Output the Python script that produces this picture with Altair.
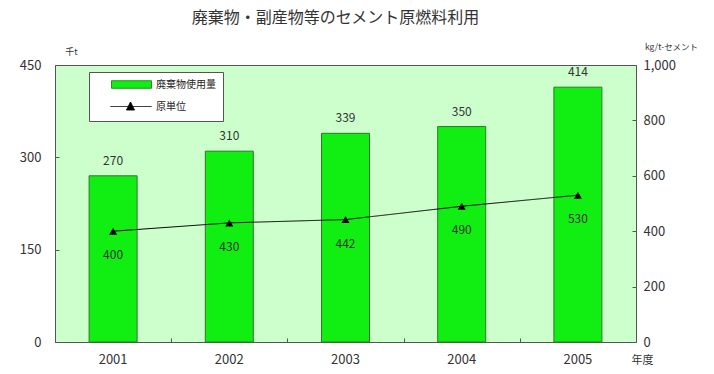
import altair as alt
import pandas as pd

years = ["2001", "2002", "2003", "2004", "2005"]
waste = [270, 310, 339, 350, 414]          # 千t
unit = [400, 430, 442, 490, 530]           # kg/t-セメント
series_names = ["廃棄物使用量", "原単位"]
left_ticks = [0, 150, 300, 450]
right_ticks = [0, 200, 400, 600, 800, 1000]

FONT = "Noto Sans CJK JP"
GREEN = "#11ee11"
TXT = "#333333"
AX = "#555555"

df = pd.DataFrame({"year": years, "waste": waste, "unit": unit})
df["s_bar"] = series_names[0]
df["s_line"] = series_names[1]

x_scale = alt.Scale(paddingInner=0, paddingOuter=0)
x_main = alt.X(
    "year:N", scale=x_scale,
    axis=alt.Axis(
        orient="bottom",
        title="年度", titleAngle=0, titleX=587, titleY=18, titleAlign="center",
        titleBaseline="middle", titleFont=FONT, titleFontSize=11, titleFontWeight="normal",
        titleColor=TXT, labelAngle=0, labelFont=FONT, labelFontSize=13, labelColor=TXT,
        labelPadding=11, ticks=False, domain=False, grid=False,
    ),
)
x_ticks = alt.X(
    "year:N", scale=x_scale,
    axis=alt.Axis(orient="bottom", title=None, labels=False, domain=False, grid=False,
                  ticks=True, tickBand="extent", tickSize=4, offset=-4, tickColor=AX),
)
x_none = alt.X("year:N", scale=x_scale, axis=None)

bar_legend = alt.Legend(
    title="　" * 14, titleOrient="bottom", titleOpacity=0, titleFont=FONT,
    titleFontSize=10, titleFontWeight="normal", titlePadding=14,
    orient="none", legendX=34, legendY=7, fillColor="white",
    strokeColor=AX, padding=7, labelFont=FONT, labelFontSize=10,
    labelColor="#222", symbolType="M2,-0.75H10V0.75H2Z", symbolSize=100,
    symbolStrokeColor="#2a8a2a", symbolStrokeWidth=1, labelOffset=49, zindex=0,
)
line_legend = alt.Legend(
    title=None, orient="none", legendX=41, legendY=36, padding=0,
    labelFont=FONT, labelFontSize=10, labelColor="#222",
    symbolType="M1.8,0H10M5,0.7L5.8,-0.9L6.6,0.7Z", symbolSize=100,
    symbolStrokeColor="#000000", symbolFillColor="#000000", symbolStrokeWidth=1,
    labelOffset=49, zindex=1,
)

left_scale = alt.Scale(domain=[0, 450], nice=False)
right_scale = alt.Scale(domain=[0, 1000], nice=False)

base = alt.Chart(df)

bars = base.mark_bar(size=48, stroke="#2a7a2a", strokeWidth=1).encode(
    x=x_main,
    y=alt.Y(
        "waste:Q", scale=left_scale,
        axis=alt.Axis(
            orient="left", values=left_ticks, title="千t", titleAngle=0, titleX=16, titleY=-14,
            titleAlign="center", titleBaseline="middle", titleFont=FONT, titleFontSize=9,
            titleFontWeight="normal", titleColor=TXT, labelFont=FONT, labelFontSize=13,
            labelColor=TXT, labelPadding=14, ticks=False, domain=False, grid=False,
        ),
    ),
    color=alt.Color("s_bar:N",
                    scale=alt.Scale(domain=[series_names[0]], range=[GREEN]),
                    legend=bar_legend),
)
bar_text = base.mark_text(dy=-15, font=FONT, fontSize=12, color=TXT).encode(
    x=x_ticks,
    y=alt.Y("waste:Q", scale=left_scale,
            axis=alt.Axis(orient="left", values=left_ticks, title=None, labels=False,
                          domain=False, grid=False, ticks=True, tickSize=4, offset=-4,
                          tickColor=AX)),
    text="waste:Q",
)
left = alt.layer(bars, bar_text).resolve_axis(x="independent", y="independent")

line = base.mark_line(strokeWidth=1, color="black").encode(
    x=x_none,
    y=alt.Y(
        "unit:Q", scale=right_scale,
        axis=alt.Axis(
            orient="right", values=right_ticks, format=",d",
            title="kg/t-セメント", titleAngle=0, titleX=35, titleY=-19, titleAlign="center",
            titleBaseline="middle", titleFont=FONT, titleFontSize=8.5, titleFontWeight="normal",
            titleColor=TXT, labelFont=FONT, labelFontSize=13, labelColor=TXT,
            labelPadding=7, ticks=False, domain=False, grid=False,
        ),
    ),
    strokeDash=alt.StrokeDash("s_line:N",
                              scale=alt.Scale(domain=[series_names[1]], range=[[1, 0]]),
                              legend=line_legend),
)
points = base.mark_point(shape="triangle-up", filled=True, size=65, opacity=1, color="black").encode(
    x=x_none, y=alt.Y("unit:Q", scale=right_scale, axis=None)
)
line_text = base.mark_text(dy=24, font=FONT, fontSize=12, color=TXT).encode(
    x=x_none,
    y=alt.Y("unit:Q", scale=right_scale,
            axis=alt.Axis(orient="right", values=right_ticks, title=None, labels=False,
                          domain=False, grid=False, ticks=True, tickSize=4, offset=-4,
                          tickColor=AX)),
    text="unit:Q",
)
right = alt.layer(line, points, line_text).resolve_axis(x="independent", y="independent")

chart = (
    alt.layer(left, right)
    .resolve_scale(y="independent")
    .resolve_axis(x="independent", y="independent")
    .properties(
        width=581, height=277,
        padding={"left": 55, "top": 65, "right": 78, "bottom": 32},
        autosize=alt.AutoSizeParams(type="none"),
        background="white",
        title=alt.Title(
            "廃棄物・副産物等のセメント原燃料利用", font=FONT, fontSize=16,
            fontWeight="normal", color=TXT, anchor="middle", dx=-10, offset=16,
        ),
    )
    .configure_view(fill="#ccffcc", stroke=AX, strokeWidth=1)
)

chart.save("out.html", embed_options={"renderer": "svg", "actions": False})
